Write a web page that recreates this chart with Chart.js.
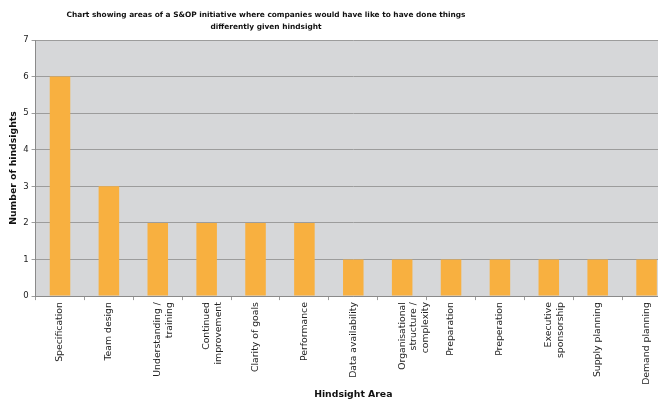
<!DOCTYPE html>
<html>
<head>
<meta charset="utf-8">
<title>Hindsight areas</title>
<script src="https://cdn.jsdelivr.net/npm/chart.js@4/dist/chart.umd.min.js"></script>
<style>
  body { margin: 0; background: #fff; overflow: hidden; }
  #wrap { width: 658px; height: 401px; overflow: hidden; }
</style>
</head>
<body>
<!-- the source image is cut off on the right, so the canvas runs a bit past the window -->
<div id="wrap"><canvas id="myChart" width="671" height="401"></canvas></div>
<script>
// data
var areas = [
  'Specification',
  'Team design',
  ['Understanding /', 'training'],
  ['Continued', 'improvement'],
  'Clarity of goals',
  'Performance',
  'Data availability',
  ['Organisational', 'structure /', 'complexity'],
  'Preparation',
  'Preperation',
  ['Executive', 'sponsorship'],
  'Supply planning',
  'Demand planning'
];
var hindsights = [6, 3, 2, 2, 2, 2, 1, 1, 1, 1, 1, 1, 1];
var yTicks = [0, 1, 2, 3, 4, 5, 6, 7];
var titleLines = [
  'Chart showing areas of a S&OP initiative where companies would have like to have done things',
  'differently given hindsight'
];

// grey plot background like the old spreadsheet chart
var plotBg = {
  id: 'plotBg',
  beforeDraw: function (chart) {
    var a = chart.chartArea, c = chart.ctx;
    c.save();
    c.fillStyle = '#d6d7d9';
    c.fillRect(a.left, a.top, a.right - a.left, a.bottom - a.top);
    c.restore();
  }
};

// title is not centred on the plot in the original, draw it by hand
var chartTitle = {
  id: 'chartTitle',
  afterDraw: function (chart) {
    var c = chart.ctx;
    c.save();
    c.fillStyle = '#111';
    c.font = 'bold 7.4px "DejaVu Sans"';
    c.textAlign = 'center';
    c.textBaseline = 'middle';
    c.fillText(titleLines[0], 266, 15);
    c.fillText(titleLines[1], 266, 27);
    c.restore();
  }
};

var ctx = document.getElementById('myChart').getContext('2d');
var chart = new Chart(ctx, {
  type: 'bar',
  data: {
    labels: areas,
    datasets: [{
      label: 'Hindsights',
      data: hindsights,
      backgroundColor: '#f8b040',
      barPercentage: 0.42,
      categoryPercentage: 1
    }]
  },
  options: {
    responsive: false,
    animation: false,
    layout: { padding: { top: 40, right: 0, left: 8, bottom: 0 } },
    plugins: {
      legend: { display: false },
      tooltip: { enabled: false }
    },
    scales: {
      y: {
        min: 0,
        max: 7,
        afterBuildTicks: function (axis) {
          axis.ticks = yTicks.map(function (v) { return { value: v }; });
        },
        grid: { color: '#9c9c9c', lineWidth: 1, tickLength: 4, drawTicks: true },
        border: { color: '#8a8a8a' },
        ticks: {
          color: '#222',
          font: { family: 'DejaVu Sans', size: 8.5 },
          padding: 3
        },
        title: {
          display: true,
          text: 'Number of hindsights',
          color: '#111',
          font: { family: 'DejaVu Sans', size: 9.3, weight: 'bold' },
          padding: { top: 0, bottom: 1 }
        }
      },
      x: {
        offset: true,
        grid: { display: true, drawOnChartArea: false, offset: true, tickLength: 4, color: '#9c9c9c' },
        border: { color: '#8a8a8a' },
        ticks: {
          minRotation: 90,
          maxRotation: 90,
          autoSkip: false,
          color: '#222',
          font: { family: 'DejaVu Sans', size: 9.3, lineHeight: 1.25 },
          padding: 2
        },
        title: {
          display: true,
          text: 'Hindsight Area',
          color: '#111',
          font: { family: 'DejaVu Sans', size: 9.3, weight: 'bold' },
          padding: { top: 2, bottom: 1 }
        }
      }
    }
  },
  plugins: [plotBg, chartTitle]
});
</script>
</body>
</html>
